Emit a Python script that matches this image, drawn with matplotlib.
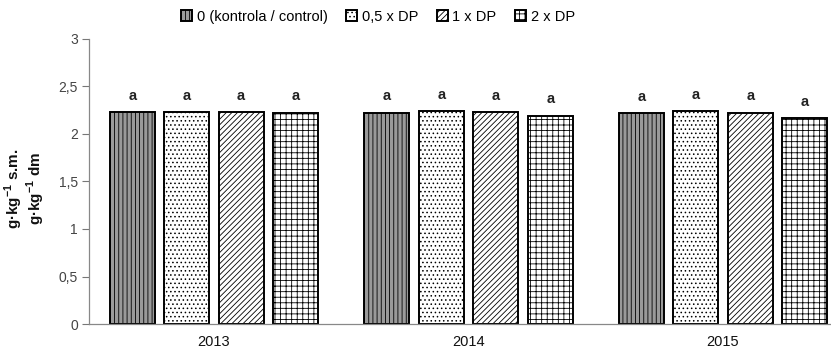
import matplotlib
matplotlib.use("Agg")
import matplotlib.pyplot as plt
import numpy as np

years = ["2013", "2014", "2015"]
series = ["0 (kontrola / control)", "0,5 x DP", "1 x DP", "2 x DP"]
values = [
    [2.23, 2.225, 2.215],
    [2.23, 2.24, 2.24],
    [2.23, 2.23, 2.22],
    [2.22, 2.19, 2.165],
]
letters = [["a"] * 3, ["a"] * 3, ["a"] * 3, ["a"] * 3]
yticks = [0, 0.5, 1, 1.5, 2, 2.5, 3]
ytick_labels = ["0", "0,5", "1", "1,5", "2", "2,5", "3"]

plt.rcParams['font.family'] = ['Liberation Sans', 'DejaVu Sans']
plt.rcParams['hatch.linewidth'] = 0.6
plt.rcParams['mathtext.fontset'] = 'custom'
plt.rcParams['mathtext.rm'] = 'Liberation Sans'
plt.rcParams['mathtext.bf'] = 'Liberation Sans:bold'

fig = plt.figure(figsize=(8.31, 3.53), dpi=100)
ax = fig.add_axes([0.107, 0.082, 0.893, 0.808])

hatches = ["||||", "....", "//////", "+++"]
facecolors = ["#9a9a9a", "white", "white", "white"]
x = np.arange(len(years))
width = 0.177
step = 0.214
offsets = [(-1.5 + i) * step for i in range(4)]
handles = []
for i in range(4):
    bars = ax.bar(x + offsets[i], values[i], width=width, color=facecolors[i],
                  edgecolor="black", linewidth=1.4, hatch=hatches[i], label=series[i])
    handles.append(bars)
    for j, b in enumerate(bars):
        ax.text(b.get_x() + b.get_width() / 2, b.get_height() + 0.1, letters[i][j],
                ha="center", va="bottom", fontsize=10.5, fontweight="bold", color="#222222")

ax.set_xlim(-0.491, 2.424)
ax.set_ylim(0, 3)
ax.set_yticks(yticks)
ax.set_yticklabels(ytick_labels, fontsize=10, color="#444444")
ax.set_xticks(x)
ax.set_xticklabels(years, fontsize=10.5, color="#111111")
ax.tick_params(axis="x", length=0, pad=8)
ax.tick_params(axis="y", length=5, width=0.8, color="#777777", pad=3)
for s in ["top", "right"]:
    ax.spines[s].set_visible(False)
for s in ["left", "bottom"]:
    ax.spines[s].set_color("#888888")
    ax.spines[s].set_linewidth(0.9)

ax.set_ylabel(r"g·kg$^{\mathbf{-1}}$ s.m." + "\n" + r"g·kg$^{\mathbf{-1}}$ dm", fontsize=11,
              fontweight="bold", color="#111111", linespacing=0.95)
ax.yaxis.set_label_coords(-0.057, 0.475)

leg = fig.legend(handles=handles, labels=series, loc="upper center",
                 bbox_to_anchor=(0.455, 1.01), ncol=4, frameon=False, fontsize=10.5,
                 handlelength=0.75, handleheight=0.75, handletextpad=0.3,
                 columnspacing=1.3)

fig.savefig("out.png", dpi=100)
